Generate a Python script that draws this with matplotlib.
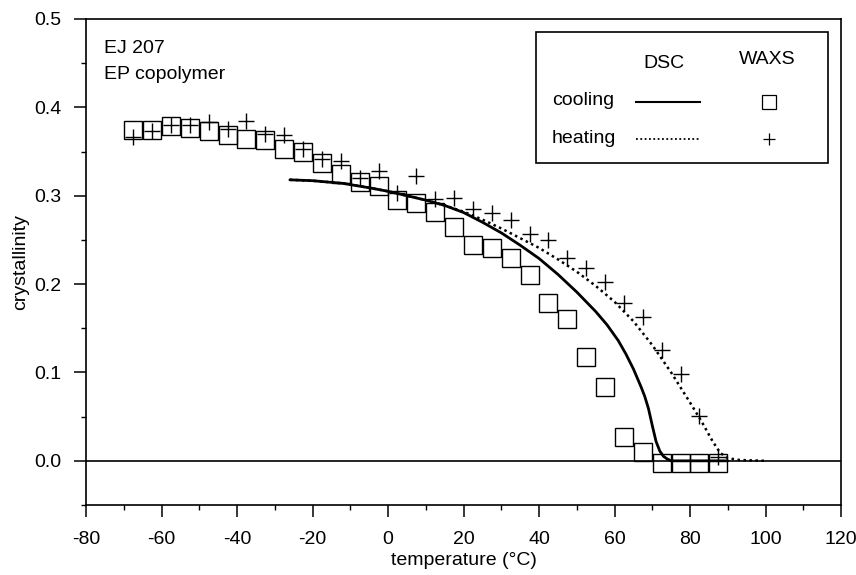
import matplotlib
matplotlib.use("Agg")
import matplotlib.pyplot as plt
from matplotlib.ticker import MultipleLocator, FormatStrFormatter
from matplotlib.patches import Rectangle

plt.rcParams['font.family'] = ['Liberation Sans', 'DejaVu Sans']
plt.rcParams['axes.unicode_minus'] = False

# WAXS data (temperature in °C, crystallinity)
waxs_T = [-67.5, -62.5, -57.5, -52.5, -47.5, -42.5, -37.5, -32.5, -27.5, -22.5,
          -17.5, -12.5, -7.5, -2.5, 2.5, 7.5, 12.5, 17.5, 22.5, 27.5,
          32.5, 37.5, 42.5, 47.5, 52.5, 57.5, 62.5, 67.5, 72.5, 77.5, 82.5, 87.5]
waxs_cooling = [0.374, 0.374, 0.379, 0.377, 0.373, 0.369, 0.364, 0.363, 0.353, 0.349,
                0.337, 0.325, 0.316, 0.311, 0.295, 0.292, 0.282, 0.265, 0.244, 0.241,
                0.229, 0.210, 0.179, 0.161, 0.117, 0.084, 0.027, 0.010, -0.002, -0.002, -0.002, -0.002]
waxs_heating = [0.367, 0.373, 0.380, 0.380, 0.383, 0.376, 0.384, 0.370, 0.369, 0.353,
                0.341, 0.339, 0.320, 0.328, 0.303, 0.322, 0.296, 0.297, 0.285, 0.281,
                0.273, 0.257, 0.250, 0.229, 0.218, 0.202, 0.179, 0.163, 0.125, 0.098, 0.051, 0.004]

# DSC curves
dsc_cool_T = [-26, -20, -12, -5, 0, 5, 10, 15, 20, 25, 30, 35, 40, 45, 50, 55, 58, 61,
              63, 65, 67, 68, 69, 70, 71, 72, 73, 74, 75, 80, 90]
dsc_cool_c = [0.318, 0.317, 0.314, 0.309, 0.305, 0.300, 0.295, 0.289, 0.281, 0.270,
              0.258, 0.244, 0.229, 0.211, 0.191, 0.169, 0.154, 0.136, 0.121, 0.104,
              0.084, 0.073, 0.059, 0.040, 0.022, 0.011, 0.005, 0.002, 0.0, 0.0, 0.0]
dsc_heat_T = [-26, -20, -12, -5, 0, 5, 10, 15, 20, 25, 30, 35, 40, 45, 50, 55, 60,
              65, 70, 75, 80, 83, 86, 88, 90, 93, 100]
dsc_heat_c = [0.318, 0.317, 0.314, 0.309, 0.305, 0.300, 0.295, 0.289, 0.282, 0.273,
              0.263, 0.252, 0.241, 0.228, 0.214, 0.198, 0.180, 0.158, 0.131, 0.100,
              0.066, 0.045, 0.022, 0.009, 0.003, 0.001, 0.0]

fig = plt.figure(figsize=(8.56, 5.75), dpi=100)
ax = fig.add_axes([0.1005, 0.1217, 0.882, 0.8453])

ax.axhline(0, color='black', lw=1.2, zorder=1)
ax.plot(dsc_cool_T, dsc_cool_c, color='black', lw=2.0, solid_capstyle='round',
        solid_joinstyle='round', zorder=3)
ax.plot(dsc_heat_T, dsc_heat_c, color='black', lw=1.8, linestyle=(0, (1, 1.4)), zorder=3)
ax.plot(waxs_T, waxs_cooling, linestyle='none', marker='s', markersize=12.5,
        markerfacecolor='none', markeredgecolor='black', markeredgewidth=1.0, zorder=4)
ax.plot(waxs_T, waxs_heating, linestyle='none', marker='+', markersize=11.5,
        markeredgecolor='black', markeredgewidth=1.0, zorder=4)

ax.set_xlim(-80, 120)
ax.set_ylim(-0.05, 0.5)
ax.xaxis.set_major_locator(MultipleLocator(20))
ax.xaxis.set_minor_locator(MultipleLocator(10))
ax.yaxis.set_major_locator(MultipleLocator(0.1))
ax.yaxis.set_minor_locator(MultipleLocator(0.05))
ax.yaxis.set_major_formatter(FormatStrFormatter('%.1f'))
ax.tick_params(which='major', direction='out', length=8.5, width=1.1, labelsize=14,
               top=False, right=False)
ax.tick_params(which='minor', direction='out', length=3.6, width=1.0, top=False, right=False)
ax.tick_params(axis='x', which='major', pad=10)
ax.tick_params(axis='y', which='major', pad=9)
for s in ax.spines.values():
    s.set_linewidth(1.2)

ax.set_xlabel('temperature (°C)', fontsize=14, labelpad=3)
ax.set_ylabel('crystallinity', fontsize=14, labelpad=4)

ax.text(0.024, 0.940, 'EJ 207', transform=ax.transAxes, fontsize=14, va='center', ha='left')
ax.text(0.024, 0.885, 'EP copolymer', transform=ax.transAxes, fontsize=14, va='center', ha='left')

# legend box
lx0, lx1, ly0, ly1 = 0.596, 0.983, 0.703, 0.974
ax.add_patch(Rectangle((lx0, ly0), lx1 - lx0, ly1 - ly0, transform=ax.transAxes,
                       facecolor='white', edgecolor='black', lw=1.2, zorder=5))
ax.text(0.765, 0.909, 'DSC', transform=ax.transAxes, fontsize=14, ha='center', va='center', zorder=6)
ax.text(0.902, 0.917, 'WAXS', transform=ax.transAxes, fontsize=14, ha='center', va='center', zorder=6)
ax.text(0.617, 0.833, 'cooling', transform=ax.transAxes, fontsize=14, ha='left', va='center', zorder=6)
ax.text(0.617, 0.755, 'heating', transform=ax.transAxes, fontsize=14, ha='left', va='center', zorder=6)
ax.plot([0.729, 0.813], [0.830, 0.830], transform=ax.transAxes, color='black', lw=1.5, zorder=6)
ax.plot([0.729, 0.813], [0.753, 0.753], transform=ax.transAxes, color='black', lw=1.3,
        linestyle=(0, (1, 1.4)), zorder=6)
ax.plot([0.904], [0.830], transform=ax.transAxes, marker='s', markersize=9.5,
        markerfacecolor='none', markeredgecolor='black', markeredgewidth=0.9, zorder=6)
ax.plot([0.904], [0.753], transform=ax.transAxes, marker='+', markersize=8,
        markeredgecolor='black', markeredgewidth=0.9, zorder=6)

fig.savefig('out.png', dpi=100)
